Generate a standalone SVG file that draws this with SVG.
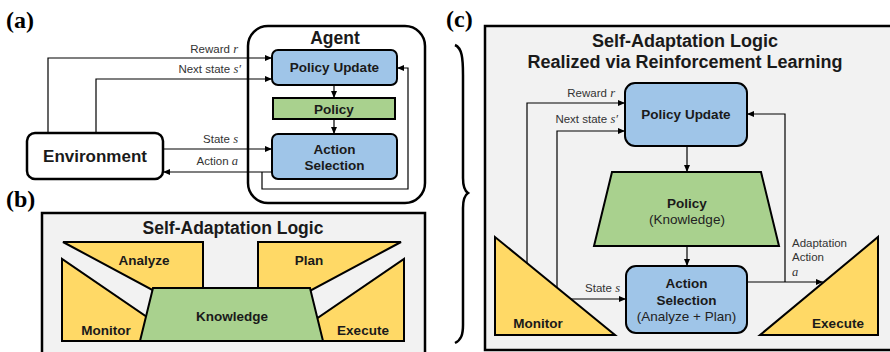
<svg xmlns="http://www.w3.org/2000/svg" width="890" height="352" viewBox="0 0 890 352">
<defs>
<marker id="ah" markerWidth="7" markerHeight="6" refX="7" refY="3" orient="auto" markerUnits="userSpaceOnUse"><path d="M0,0 L7,3 L0,6 z" fill="#000"/></marker>
<style>
.b{font-family:"Liberation Sans",Arial,sans-serif;font-weight:bold;fill:#1a1a1a;text-anchor:middle}
.n{font-family:"Liberation Sans",Arial,sans-serif;fill:#222;text-anchor:middle}
.l{font-family:"Liberation Sans",Arial,sans-serif;font-size:11.5px;fill:#333;text-anchor:end}
.la{font-family:"Liberation Sans",Arial,sans-serif;font-size:11.5px;fill:#333}
.m{font-family:"Liberation Serif","Times New Roman",serif;font-style:italic;font-size:12.5px}
.pl{font-family:"Liberation Serif","Times New Roman",serif;font-weight:bold;font-size:24px;fill:#000}
.blue{fill:#9fc5e8;stroke:#000;stroke-width:2}
.green{fill:#a9d18e;stroke:#000;stroke-width:2}
.yel{fill:#ffd966;stroke:#000;stroke-width:2;stroke-linejoin:miter}
.bg{fill:#f2f2f2;stroke:#000;stroke-width:2.5}
.c{fill:none;stroke:#000;stroke-width:1.2}
</style>
</defs>
<rect width="890" height="352" fill="#fff"/>

<!-- panel labels -->
<text class="pl" x="6" y="28">(a)</text>
<text class="pl" x="6" y="207">(b)</text>
<text class="pl" x="446" y="27">(c)</text>

<!-- brace -->
<path d="M455,45 C462,48 463,58 463,75 L463,178 C463,186 465,191 468,193 C465,195 463,200 463,208 L463,325 C463,335 461,340 455,343" fill="none" stroke="#000" stroke-width="2.5"/>

<!-- ===== Panel (a) ===== -->
<g id="agent">
<rect x="248" y="26" width="177" height="177" rx="20" fill="#fff" stroke="#000" stroke-width="2.5"/>
<text class="b" x="335" y="44" font-size="17.5">Agent</text>
</g>
<g id="a-policy-update">
<rect class="blue" x="272" y="50" width="125" height="35" rx="6"/>
<text class="b" x="334.5" y="72" font-size="13.5">Policy Update</text>
</g>
<g id="a-policy">
<rect class="green" x="273" y="98" width="122" height="21"/>
<text class="b" x="334" y="114" font-size="13.5">Policy</text>
</g>
<g id="a-action-selection">
<rect class="blue" x="272" y="134" width="125" height="45" rx="6"/>
<text class="b" x="334.5" y="154" font-size="13.5">Action</text>
<text class="b" x="334.5" y="170" font-size="13.5">Selection</text>
</g>
<g id="a-environment">
<rect x="27" y="133" width="136" height="46" rx="8" fill="#fff" stroke="#000" stroke-width="2.5"/>
<text class="b" x="95" y="162" font-size="17">Environment</text>
</g>
<g id="a-connectors">
<path class="c" d="M334,85 V98" marker-end="url(#ah)"/>
<path class="c" d="M334,119 V134" marker-end="url(#ah)"/>
<path class="c" d="M48,133 V58 H272" marker-end="url(#ah)"/>
<path class="c" d="M96,133 V79 H272" marker-end="url(#ah)"/>
<path class="c" d="M163,149 H272" marker-end="url(#ah)"/>
<path class="c" d="M272,172 H163" marker-end="url(#ah)"/>
<path class="c" d="M262,172 V189 H408 V68 H397" marker-end="url(#ah)"/>
<text class="l" x="238" y="53">Reward <tspan class="m">r</tspan></text>
<text class="l" x="241" y="73">Next state <tspan class="m">s′</tspan></text>
<text class="l" x="238" y="143">State <tspan class="m">s</tspan></text>
<text class="l" x="238" y="165">Action <tspan class="m">a</tspan></text>
</g>

<!-- ===== Panel (b) ===== -->
<g id="b-frame">
<rect class="bg" x="42" y="213" width="383" height="150"/>
<text class="b" x="233" y="234" font-size="17.5">Self-Adaptation Logic</text>
</g>
<g id="b-analyze">
<polygon class="yel" points="63,242 203,242 203,300 171,300"/>
<text class="b" x="144" y="265" font-size="13.5">Analyze</text>
</g>
<g id="b-plan">
<polygon class="yel" points="258,242 401,242 293,300 258,300"/>
<text class="b" x="309" y="265" font-size="13.5">Plan</text>
</g>
<g id="b-monitor">
<polygon class="yel" points="62,259 62,341 182,341"/>
<text class="b" x="106" y="335" font-size="13.5">Monitor</text>
</g>
<g id="b-execute">
<polygon class="yel" points="404,259 404,341 284,341"/>
<text class="b" x="363" y="335" font-size="13.5">Execute</text>
</g>
<g id="b-knowledge">
<polygon class="green" points="153,288 310,288 323,341 140,341"/>
<text class="b" x="232" y="321" font-size="13.5">Knowledge</text>
</g>

<!-- ===== Panel (c) ===== -->
<g id="c-frame">
<rect class="bg" x="485" y="26" width="410" height="324"/>
<text class="b" x="685" y="47" font-size="18">Self-Adaptation Logic</text>
<text class="b" x="685" y="68" font-size="18">Realized via Reinforcement Learning</text>
</g>
<g id="c-policy-update">
<rect class="blue" x="625" y="83" width="122" height="63" rx="10"/>
<text class="b" x="686" y="119" font-size="13.5">Policy Update</text>
</g>
<g id="c-policy">
<polygon class="green" points="612,172 761,172 779,246 594,246"/>
<text class="b" x="687" y="208" font-size="13.5">Policy</text>
<text class="n" x="687" y="224" font-size="13.5">(Knowledge)</text>
</g>
<g id="c-action-selection">
<rect class="blue" x="626" y="266" width="121" height="67" rx="10"/>
<text class="b" x="686.5" y="288" font-size="13.5">Action</text>
<text class="b" x="686.5" y="305" font-size="13.5">Selection</text>
<text class="n" x="686.5" y="321" font-size="13.5">(Analyze + Plan)</text>
</g>
<g id="c-monitor">
<polygon class="yel" points="495,237 495,335 615,335"/>
<text class="b" x="538" y="328" font-size="13.5">Monitor</text>
</g>
<g id="c-execute">
<polygon class="yel" points="878,237 878,335 760,335"/>
<text class="b" x="838" y="328" font-size="13.5">Execute</text>
</g>
<g id="c-connectors">
<path class="c" d="M687,146 V172" marker-end="url(#ah)"/>
<path class="c" d="M687,246 V266" marker-end="url(#ah)"/>
<path class="c" d="M527,263 V103 H625" marker-end="url(#ah)"/>
<path class="c" d="M557,288 V131 H625" marker-end="url(#ah)"/>
<path class="c" d="M571,299 H626" marker-end="url(#ah)"/>
<path class="c" d="M747,282 H823" marker-end="url(#ah)"/>
<path class="c" d="M785,282 V114 H747" marker-end="url(#ah)"/>
<text class="l" x="615" y="97">Reward <tspan class="m">r</tspan></text>
<text class="l" x="618" y="123">Next state <tspan class="m">s′</tspan></text>
<text class="l" x="620" y="292">State <tspan class="m">s</tspan></text>
<text class="la" x="792" y="247">Adaptation</text>
<text class="la" x="792" y="261">Action</text>
<text class="la m" x="792" y="276">a</text>
</g>
</svg>
